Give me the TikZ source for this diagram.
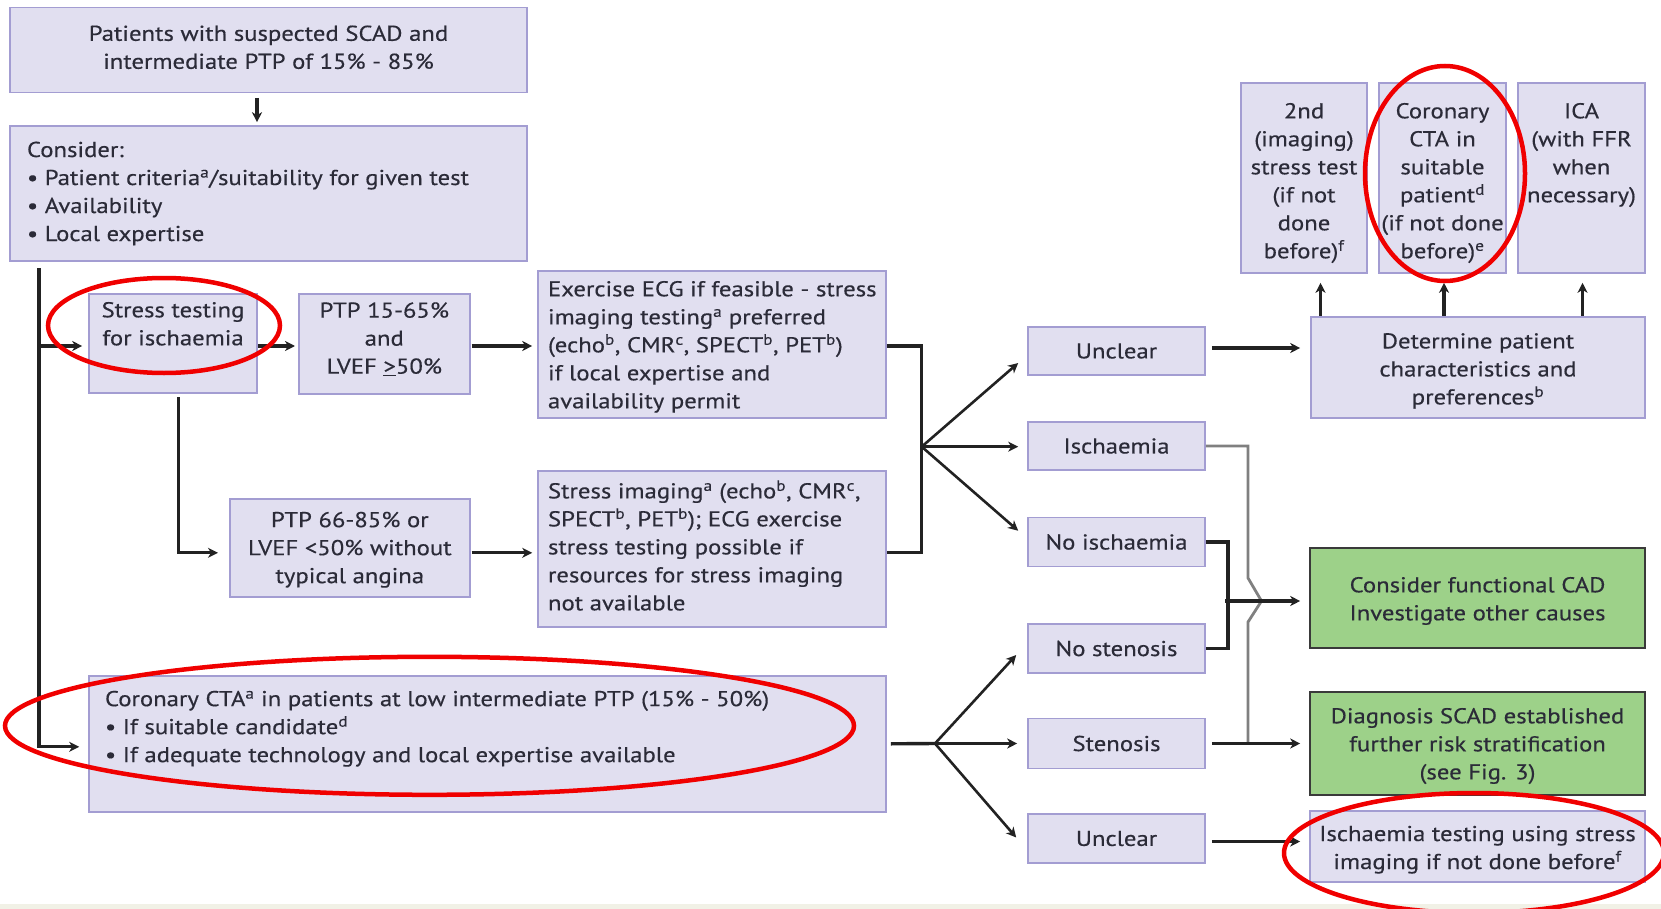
\documentclass[tikz,border=0pt]{standalone}
\usepackage{fontspec}
\setmainfont{PT Sans}[FakeStretch=1.15, FakeBold=0.4]
\usetikzlibrary{arrows.meta,calc}

\definecolor{boxfill}{HTML}{E1DFF0}
\definecolor{boxline}{HTML}{A39DD2}
\definecolor{greenfill}{HTML}{9DD189}
\definecolor{greenline}{HTML}{3A3A3A}
\definecolor{ink}{HTML}{2B2B38}
\definecolor{wire}{HTML}{222222}
\definecolor{greywire}{HTML}{808080}
\definecolor{ring}{HTML}{F00000}
\definecolor{strip}{HTML}{F1F1E6}

\newcommand{\boxfont}{\fontsize{21.5}{28}\selectfont}
% top-aligned content: width, height, gap above first line, content
\newcommand{\topcell}[4]{\parbox[c][#2][t]{#1}{\vspace*{#3}#4}}
% left-aligned, vertically centred content: width, left pad, content
\newcommand{\leftcell}[3]{\parbox[c]{#1}{\raggedright\leftskip=#2\relax #3}}
\newcommand{\fn}[1]{\textsuperscript{#1}}

\begin{document}
\begin{tikzpicture}[x=1pt,y=-1pt,
  box/.style={draw=boxline, fill=boxfill, line width=1.6pt, inner sep=0pt,
    font=\boxfont, text=ink, align=center},
  greenbox/.style={box, draw=greenline, fill=greenfill},
  arr/.style={draw=wire, line width=3.2pt,
    -{Stealth[length=10pt,width=10pt,inset=3pt]}},
  farr/.style={draw=wire, line width=2.6pt,
    -{Stealth[length=10pt,width=10pt,inset=3pt]}},
  bk/.style={draw=wire, line width=3.4pt},
  greyline/.style={draw=greywire, line width=2.8pt},
  redring/.style={draw=ring, line width=4.5pt}]

\useasboundingbox (0,0) rectangle (1661,909);
\fill[strip] (0,904) rectangle (1661,909);

% ---- left column ----
\node[box] (top) at (268.5,50)
  {\topcell{517pt}{85pt}{18pt}{\centering Patients with suspected SCAD and\\intermediate PTP of 15\% - 85\%}};
\node[box, minimum width=517, minimum height=135] (cons) at (268.5,193.5)
  {\leftcell{517pt}{17pt}{Consider:\\
   • Patient criteria\fn{a}/suitability for given test\\
   • Availability\\
   • Local expertise}};

\node[box] (stress) at (173,343.5)
  {\topcell{168pt}{99pt}{8pt}{\centering Stress testing\\for ischaemia}};
\node[box] (ptp1) at (384.3,344)
  {\topcell{171pt}{100pt}{8.3pt}{\centering PTP 15-65\%\\and\\LVEF \underline{>}50\%}};
\node[box] (ecg) at (712,344.5)
  {\topcell{348pt}{147pt}{10pt}{\raggedright\leftskip=10pt
   Exercise ECG if feasible - stress\\
   imaging testing\fn{a} preferred\\
   (echo\fn{b}, CMR\fn{c}, SPECT\fn{b}, PET\fn{b})\\
   if local expertise and\\
   availability permit}};

\node[box] (ptp2) at (349.8,547.8)
  {\topcell{240pt}{98pt}{13pt}{\centering PTP 66-85\% or\\LVEF <50\% without\\typical angina}};
\node[box] (simg) at (712,548.8)
  {\topcell{348pt}{156pt}{9.5pt}{\raggedright\leftskip=10pt
   Stress imaging\fn{a} (echo\fn{b}, CMR\fn{c},\\
   SPECT\fn{b}, PET\fn{b}); ECG exercise\\
   stress testing possible if\\
   resources for stress imaging\\
   not available}};

\node[box] (cta) at (487.5,743.8)
  {\topcell{797pt}{136pt}{15pt}{\raggedright\leftskip=16pt
   Coronary CTA\fn{a} in patients at low intermediate PTP (15\% - 50\%)\\
   • If suitable candidate\fn{d}\\
   • If adequate technology and local expertise available}};

% ---- test results ----
\node[box, minimum width=177, minimum height=48] (unclear1) at (1116.5,351) {Unclear};
\node[box, minimum width=177, minimum height=48] (isch) at (1116.5,446) {Ischaemia};
\node[box, minimum width=177, minimum height=49] (noisch) at (1116.5,542) {No ischaemia};
\node[box, minimum width=177, minimum height=49] (nosten) at (1116.5,648.5) {No stenosis};
\node[box, minimum width=177, minimum height=50] (sten) at (1116.5,743.5) {Stenosis};
\node[box, minimum width=177, minimum height=49] (unclear2) at (1116.5,838.5) {Unclear};

% ---- right column ----
\node[box] (s2) at (1304,178)
  {\topcell{126pt}{190pt}{20pt}{\centering 2nd\\(imaging)\\stress test\\(if not\\done\\before)\fn{f}}};
\node[box] (sc) at (1442.5,178)
  {\topcell{127pt}{190pt}{20pt}{\centering Coronary\\CTA in\\suitable\\patient\fn{d}\\(if not done\\before)\fn{e}}};
\node[box] (sica) at (1581.5,178)
  {\topcell{127pt}{190pt}{20pt}{\centering ICA\\(with FFR\\when\\necessary)}};

\node[box] (det) at (1478,367.2)
  {\topcell{334pt}{101pt}{16.5pt}{\centering Determine patient\\characteristics and\\preferences\fn{b}}};
\node[greenbox] (cad) at (1477.5,598)
  {\topcell{335pt}{100pt}{29pt}{\centering Consider functional CAD\\Investigate other causes}};
\node[greenbox] (diag) at (1477.5,743.5)
  {\topcell{335pt}{103pt}{16pt}{\centering Diagnosis SCAD established\\further risk stratification\\(see Fig. 3)}};
\node[box] (itest) at (1477.5,846.3)
  {\topcell{335pt}{71pt}{15pt}{\centering Ischaemia testing using stress\\imaging if not done before\fn{f}}};

% ---- connectors ----
\coordinate (trunk) at (39,268);
\coordinate (fan1) at (921.7,446.7);
\coordinate (fan2) at (935,743.5);
\coordinate (jn) at (1228,601);
\coordinate (hop) at (1261.5,601);

\draw[arr] ($(top.south)+(-11.5,4.5)$) -- ($(top.south |- cons.north)+(-11.5,-3)$);
\draw[arr] (trunk) |- ($(cta.west)+(-9,3)$);
\draw[arr] ($(trunk |- stress.west)+(0,2.5)$) -- ($(stress.west)+(-6,2.5)$);
\draw[arr] ($(stress.east)+(0,2.5)$) -- ($(stress.east -| ptp1.west)+(-3,2.5)$);
\draw[arr] ($(ptp1.east)+(1,2)$) -- ($(ptp1.east -| ecg.west)+(-5,2)$);
\draw[arr] ($(stress.south)+(5.5,3.5)$) |- ($(ptp2.west)+(-11,5)$);
\draw[arr] ($(ptp2.east)+(1,5)$) -- ($(ptp2.east -| simg.west)+(-5,5)$);

\draw[bk] ($(ecg.east)+(0,1.5)$) -| ($(fan1 |- simg.east)+(0,3.5)$) -- ($(simg.east)+(0,3.5)$);
\draw[farr] (fan1) -- ($(unclear1.west)+(-9,12)$);
\draw[arr] (fan1) -- ($(isch.west)+(-9,0.7)$);
\draw[farr] (fan1) -- ($(noisch.west)+(-9,-11.3)$);

\draw[bk] ($(cta.east)+(4,0)$) -- (fan2);
\draw[farr] (fan2) -- ($(nosten.west)+(-11,6.5)$);
\draw[arr] (fan2) -- ($(sten.west)+(-10,0)$);
\draw[farr] (fan2) -- ($(unclear2.west)+(-11,-1)$);

\draw[arr] ($(unclear1.east)+(6,-3)$) -- ($(unclear1.east -| det.west)+(-10,-3)$);
\draw[arr] ($(s2.south |- det.north)+(16.5,0)$) -- ($(s2.south)+(16.5,9)$);
\draw[arr] ($(sc.south |- det.north)+(1.5,0)$) -- ($(sc.south)+(1.5,9)$);
\draw[arr] ($(sica.south |- det.north)+(1,0)$) -- ($(sica.south)+(1,9)$);

\draw[greyline] (isch.east) -| ($(hop)+(-13.5,-23)$) -- (hop) -- ($(hop)+(-13.5,21)$)
  -- ($(hop |- sten.east)+(-13.5,0)$);
\draw[bk] (noisch.east) -| (jn) |- (nosten.east);
\draw[arr] ($(jn)+(-3,0)$) -- ($(jn -| cad.west)+(-9,0)$);
\draw[arr] ($(sten.east)+(6,0)$) -- ($(sten.east -| diag.west)+(-9,0)$);
\draw[arr] ($(unclear2.east)+(6,3)$) -- ($(unclear2.east -| itest.west)+(-9,3)$);

% ---- highlight rings ----
\draw[redring] (164,325.5) ellipse [x radius=116, y radius=47.5];
\draw[redring] (1445,173.5) ellipse [x radius=80, y radius=107.5];
\draw[redring] (429.5,725.8) ellipse [x radius=424.5, y radius=69];
\draw[redring] (1474,853) ellipse [x radius=190, y radius=60];
\end{tikzpicture}
\end{document}
